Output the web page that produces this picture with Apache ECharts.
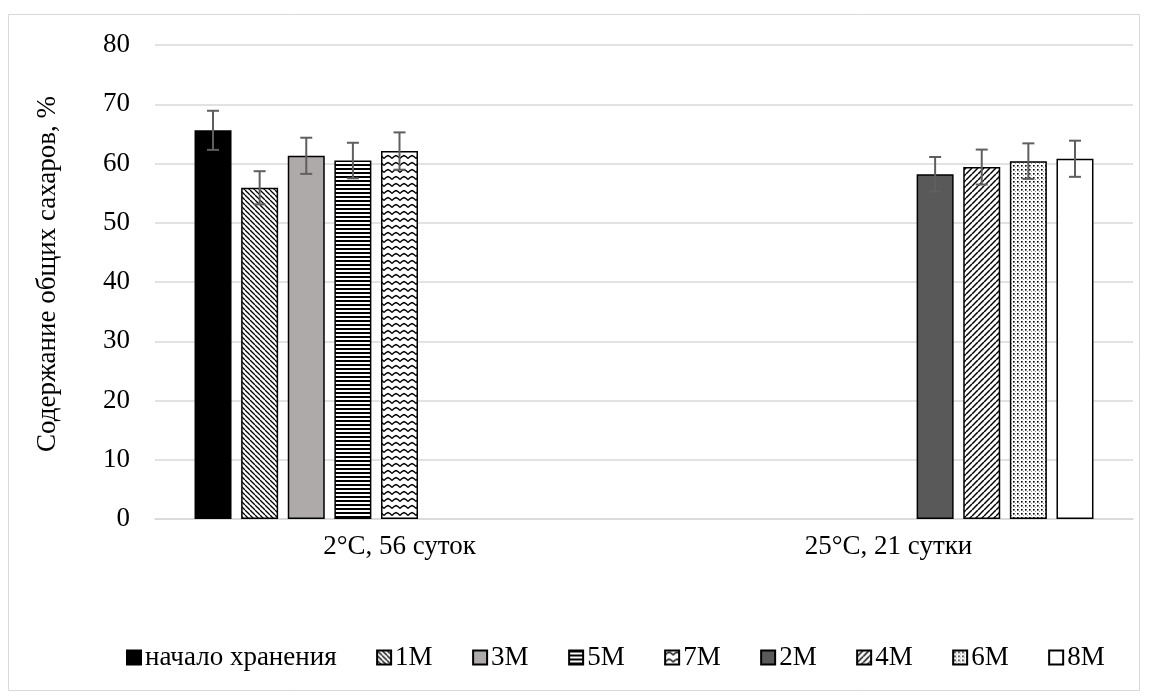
<!DOCTYPE html>
<html>
<head>
<meta charset="utf-8">
<script src="https://cdn.jsdelivr.net/npm/echarts@6/dist/echarts.min.js"></script>
<style>
  html, body { margin: 0; padding: 0; background: #fff; }
  #chart { width: 1149px; height: 699px; }
</style>
</head>
<body>
<div id="chart"></div>
<script>
// Storage conditions (categories on the x axis)
const categories = ['2°C, 56 суток', '25°C, 21 сутки'];

// Series names in legend order
const seriesNames = ['начало хранения', '1M', '3M', '5M', '7M', '2M', '4M', '6M', '8M'];

// Total sugar content, % (null = not measured in that condition)
const startValues = [65.6, null];
const m1Values = [55.9, null];
const m3Values = [61.3, null];
const m5Values = [60.5, null];
const m7Values = [62.1, null];
const m2Values = [null, 58.2];
const m4Values = [null, 59.4];
const m6Values = [null, 60.4];
const m8Values = [null, 60.8];

// Error (± half-range) for each bar
const startErr = [3.3, null];
const m1Err = [2.8, null];
const m3Err = [3.05, null];
const m5Err = [3.0, null];
const m7Err = [3.15, null];
const m2Err = [null, 2.9];
const m4Err = [null, 2.95];
const m6Err = [null, 3.0];
const m8Err = [null, 3.05];

// Y axis ticks
const yMin = 0, yMax = 80, yStep = 10;

const allValues = [startValues, m1Values, m3Values, m5Values, m7Values, m2Values, m4Values, m6Values, m8Values];
const allErrors = [startErr, m1Err, m3Err, m5Err, m7Err, m2Err, m4Err, m6Err, m8Err];

// ---- fill patterns ----
function tile(w, h, draw) {
  const c = document.createElement('canvas');
  c.width = w; c.height = h;
  const ctx = c.getContext('2d');
  ctx.fillStyle = '#fff';
  ctx.fillRect(0, 0, w, h);
  ctx.strokeStyle = '#000';
  ctx.fillStyle = '#000';
  draw(ctx, w, h);
  return { image: c, repeat: 'repeat' };
}
const downDiagonal = tile(5, 5, (ctx, s) => {
  ctx.lineWidth = 1.3;
  for (const k of [-s, 0, s]) { ctx.beginPath(); ctx.moveTo(k, 0); ctx.lineTo(k + s, s); ctx.stroke(); }
});
const upDiagonal = tile(6, 6, (ctx, s) => {
  ctx.lineWidth = 1.5;
  for (const k of [-s, 0, s]) { ctx.beginPath(); ctx.moveTo(k, s); ctx.lineTo(k + s, 0); ctx.stroke(); }
});
const horizontalLines = tile(4, 4, (ctx) => {
  ctx.fillRect(0, 0, 4, 2);
});
const wave = tile(8, 7, (ctx) => {
  ctx.lineWidth = 1.4;
  ctx.beginPath();
  ctx.moveTo(0, 4.5); ctx.lineTo(2, 2.5); ctx.lineTo(4, 1.5); ctx.lineTo(6, 2.5); ctx.lineTo(8, 4.5);
  ctx.stroke();
});
const dottedGrid = tile(4, 4, (ctx) => {
  ctx.fillRect(1, 1, 1.6, 1.6);
  ctx.fillStyle = '#999';
  ctx.fillRect(3, 3, 1, 1);
});

const fills = ['#000000', downDiagonal, '#aeaaaa', horizontalLines, wave, '#595959', upDiagonal, dottedGrid, '#ffffff'];

const barWidth = 37;
const barGapRatio = 0.26;
const step = barWidth * (1 + barGapRatio);
const nSeries = seriesNames.length;

const font = "'Liberation Serif', 'Times New Roman', serif";
const fontSize = 27;

const series = seriesNames.map((name, i) => ({
  name: name,
  type: 'bar',
  data: allValues[i],
  barWidth: barWidth,
  barGap: (barGapRatio * 100) + '%',
  itemStyle: { color: fills[i], borderColor: '#000', borderWidth: 1.5 },
  emphasis: { disabled: true },
  z: 2
}));

// Error bars drawn on top of the bars
const errData = [];
allValues.forEach((vals, si) => {
  vals.forEach((v, ci) => {
    if (v != null) errData.push([ci, si, v, allErrors[si][ci]]);
  });
});
series.push({
  type: 'custom',
  name: 'errors',
  silent: true,
  z: 5,
  data: errData,
  encode: { x: 0, y: 2 },
  renderItem: function (params, api) {
    const ci = api.value(0), si = api.value(1), v = api.value(2), e = api.value(3);
    const center = api.coord([ci, v]);
    const x = center[0] + (si - (nSeries - 1) / 2) * step;
    const yTop = api.coord([ci, v + e])[1];
    const yBot = api.coord([ci, v - e])[1];
    const cap = 6;
    const style = { stroke: '#5f5f5f', lineWidth: 2 };
    return {
      type: 'group',
      children: [
        { type: 'line', shape: { x1: x, y1: yTop, x2: x, y2: yBot }, style: style },
        { type: 'line', shape: { x1: x - cap, y1: yTop, x2: x + cap, y2: yTop }, style: style },
        { type: 'line', shape: { x1: x - cap, y1: yBot, x2: x + cap, y2: yBot }, style: style }
      ]
    };
  }
});

const chart = echarts.init(document.getElementById('chart'), null, { renderer: 'canvas' });
chart.setOption({
  animation: false,
  backgroundColor: '#fff',
  textStyle: { fontFamily: font, color: '#000' },
  graphic: [{
    type: 'rect',
    shape: { x: 8.5, y: 14.5, width: 1131, height: 676 },
    style: { fill: null, stroke: '#d9d9d9', lineWidth: 1 },
    silent: true
  }],
  grid: { left: 155, right: 16, top: 45, bottom: 180, containLabel: false },
  legend: {
    data: seriesNames,
    bottom: 23,
    left: 121,
    itemWidth: 14,
    itemHeight: 14,
    itemGap: 39.5,
    icon: 'rect',
    selectedMode: false,
    textStyle: { fontFamily: font, fontSize: fontSize, color: '#000', padding: [0, 0, 0, -1] }
  },
  xAxis: {
    type: 'category',
    data: categories,
    axisLine: { show: true, lineStyle: { color: '#d9d9d9', width: 1.5 } },
    axisTick: { show: false },
    axisLabel: { fontFamily: font, fontSize: fontSize, color: '#000', margin: 14 },
    splitLine: { show: false }
  },
  yAxis: {
    type: 'value',
    min: yMin,
    max: yMax,
    interval: yStep,
    name: 'Содержание общих сахаров, %',
    nameLocation: 'middle',
    nameGap: 94,
    nameRotate: 90,
    nameTextStyle: { fontFamily: font, fontSize: fontSize, color: '#000', padding: [0, 0, 0, 16] },
    axisLine: { show: false },
    axisTick: { show: false },
    axisLabel: { fontFamily: font, fontSize: fontSize, color: '#000', margin: 25 },
    splitLine: { lineStyle: { color: '#d9d9d9', width: 1.5 } }
  },
  series: series
});
</script>
</body>
</html>
